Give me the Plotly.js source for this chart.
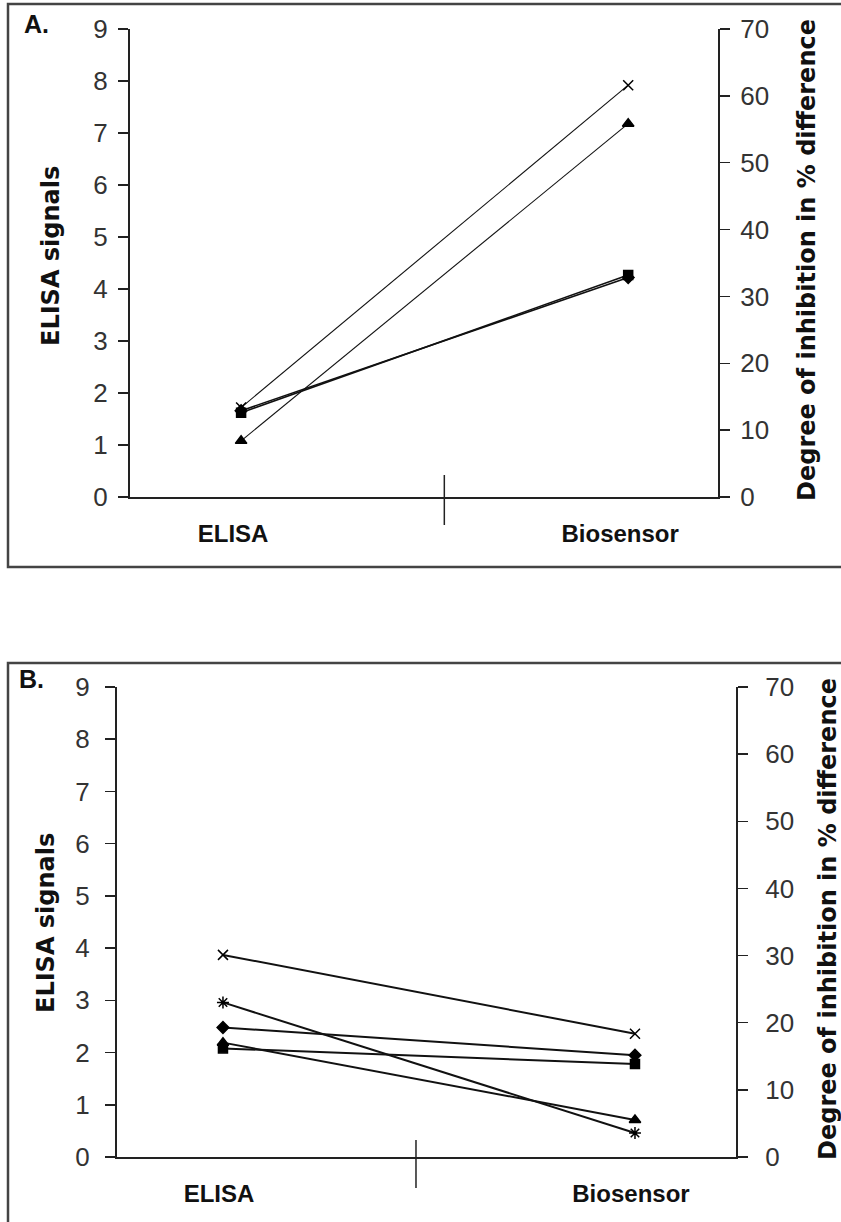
<!DOCTYPE html>
<html>
<head>
<meta charset="utf-8">
<script src="https://cdn.plot.ly/plotly-3.0.1.min.js"></script>
<style>html,body{margin:0;padding:0;background:#fff;}#chart{width:841px;height:1222px;}</style>
</head>
<body>
<div id="chart"></div>
<script>
// ---- data ----
const categories = ['ELISA', 'Biosensor'];
// Panel A (ELISA signals)
const aDiamond  = [1.66, 4.22];
const aSquare   = [1.62, 4.27];
const aTriangle = [1.08, 7.18];
const aCross    = [1.72, 7.92];
// Panel B (ELISA signals)
const bCross    = [3.87, 2.36];
const bAsterisk = [2.96, 0.46];
const bDiamond  = [2.48, 1.95];
const bTriangle = [2.19, 0.71];
const bSquare   = [2.08, 1.78];
// tick labels
const leftTicks  = [0,1,2,3,4,5,6,7,8,9];
const rightTicks = [0,10,20,30,40,50,60,70];
const panelLabels = ['A.', 'B.'];
const leftTitle = 'ELISA signals';
const rightTitle = 'Degree of inhibition in % difference';

// ---- layout helpers (pixel -> paper) ----
const W = 841, H = 1222;
const px = x => x / W;
const py = y => 1 - y / H;

function mk(y, sym, xa, ya, lw, size) {
  return {
    x: categories, y: y, xaxis: xa, yaxis: ya, type: 'scatter', mode: 'lines+markers',
    line: {color: '#111', width: lw},
    marker: {symbol: sym, size: size, color: '#000', line: {color: '#000', width: 1.5}},
    showlegend: false, hoverinfo: 'skip', cliponaxis: false
  };
}
// empty carrier trace so the right-hand axis is drawn
function carrier(xa, ya) {
  return {x: categories, y: [null, null], xaxis: xa, yaxis: ya, type: 'scatter', mode: 'lines',
          showlegend: false, hoverinfo: 'skip'};
}

const traces = [
  carrier('x', 'y2'),
  carrier('x2', 'y4'),
  mk(aCross, 'x-thin-open', 'x', 'y', 1.1, 10),
  mk(aTriangle, 'triangle-up', 'x', 'y', 1.1, 10),
  mk(aDiamond, 'diamond', 'x', 'y', 1.6, 9),
  mk(aSquare, 'square', 'x', 'y', 1.6, 9),
  mk(bCross, 'x-thin-open', 'x2', 'y3', 2, 10),
  mk(bAsterisk, 'asterisk-open', 'x2', 'y3', 2, 10),
  mk(bDiamond, 'diamond', 'x2', 'y3', 2, 9),
  mk(bTriangle, 'triangle-up', 'x2', 'y3', 2, 10),
  mk(bSquare, 'square', 'x2', 'y3', 2, 9)
];

const tickFont = {family: 'Liberation Sans, Arial, sans-serif', size: 26, color: '#333'};
const catFont = {family: 'Liberation Sans, Arial, sans-serif', size: 24, color: '#111', weight: 'bold'};
const titleFont = {family: 'DejaVu Sans, Arial, sans-serif', size: 24, color: '#111', weight: 'bold'};

function yax(domain, range, vals, side, anchor, overlaying, standoff) {
  const o = {
    domain: domain, range: range, tickvals: vals, ticktext: vals.map(String),
    ticks: 'outside', ticklen: 10, tickwidth: 1.5, tickcolor: '#222',
    showline: true, linecolor: '#222', linewidth: 2, showgrid: false, zeroline: false,
    tickfont: tickFont, side: side, anchor: anchor, fixedrange: true,
    ticklabelstandoff: standoff
  };
  if (overlaying) o.overlaying = overlaying;
  return o;
}
function xax(domain, range, anchor, shift) {
  return {
    domain: domain, range: range, type: 'category', anchor: anchor,
    showline: true, linecolor: '#222', linewidth: 2, showgrid: false, zeroline: false,
    ticks: '', tickfont: catFont, ticklabelstandoff: 14, ticklabelshift: shift, fixedrange: true
  };
}

// Panel geometry (pixels)
const A = {l: 130, r: 718, t: 29, b: 497};
const B = {l: 117, r: 736, t: 687, b: 1157};

const layout = {
  width: W, height: H, margin: {l: 0, r: 0, t: 0, b: 0},
  paper_bgcolor: '#fff', plot_bgcolor: 'rgba(0,0,0,0)', showlegend: false,
  xaxis:  xax([px(A.l), px(A.r)], [-0.287, 1.232], 'y', -8),
  yaxis:  yax([py(A.b), py(A.t)], [0, 9], leftTicks, 'left', 'x', null, 5),
  yaxis2: yax([py(A.b), py(A.t)], [0, 70], rightTicks, 'right', 'x', 'y', 5),
  xaxis2: xax([px(B.l), px(B.r)], [-0.2572, 1.2452], 'y3', -4),
  yaxis3: yax([py(B.b), py(B.t)], [0, 9], leftTicks, 'left', 'x2', null, 10),
  yaxis4: yax([py(B.b), py(B.t)], [0, 70], rightTicks, 'right', 'x2', 'y3', 12),
  shapes: [
    {type: 'rect', xref: 'paper', yref: 'paper', x0: px(8), x1: px(848), y0: py(567), y1: py(4),
     line: {color: '#444', width: 2.5}},
    {type: 'rect', xref: 'paper', yref: 'paper', x0: px(8), x1: px(848), y0: py(1230), y1: py(663),
     line: {color: '#444', width: 2.5}},
    {type: 'line', xref: 'x', yref: 'paper', x0: 0.525, x1: 0.525, y0: py(475), y1: py(525),
     line: {color: '#222', width: 1.5}},
    {type: 'line', xref: 'x2', yref: 'paper', x0: 0.4685, x1: 0.4685, y0: py(1140), y1: py(1188),
     line: {color: '#222', width: 1.5}},
    {type: 'line', xref: 'paper', yref: 'paper', x0: px(120), x1: px(A.l), y0: py(A.b), y1: py(A.b),
     line: {color: '#222', width: 2}},
    {type: 'line', xref: 'paper', yref: 'paper', x0: px(107), x1: px(B.l), y0: py(B.b), y1: py(B.b),
     line: {color: '#222', width: 2}}
  ],
  annotations: [
    {text: panelLabels[0], xref: 'paper', yref: 'paper', x: px(22), y: py(24), xanchor: 'left', yanchor: 'middle',
     showarrow: false, font: {family: 'Liberation Sans, Arial, sans-serif', size: 25, weight: 'bold', color: '#111'}},
    {text: panelLabels[1], xref: 'paper', yref: 'paper', x: px(17), y: py(679), xanchor: 'left', yanchor: 'middle',
     showarrow: false, font: {family: 'Liberation Sans, Arial, sans-serif', size: 25, weight: 'bold', color: '#111'}},
    {text: leftTitle, xref: 'paper', yref: 'paper', x: px(51), y: py(256), textangle: -90,
     xanchor: 'center', yanchor: 'middle', showarrow: false, font: titleFont},
    {text: rightTitle, xref: 'paper', yref: 'paper', x: px(807), y: py(260), textangle: -90,
     xanchor: 'center', yanchor: 'middle', showarrow: false, font: titleFont},
    {text: leftTitle, xref: 'paper', yref: 'paper', x: px(46), y: py(923), textangle: -90,
     xanchor: 'center', yanchor: 'middle', showarrow: false, font: titleFont},
    {text: rightTitle, xref: 'paper', yref: 'paper', x: px(828), y: py(919), textangle: -90,
     xanchor: 'center', yanchor: 'middle', showarrow: false, font: titleFont}
  ]
};

Plotly.newPlot('chart', traces, layout, {staticPlot: true, displayModeBar: false});
</script>
</body>
</html>
